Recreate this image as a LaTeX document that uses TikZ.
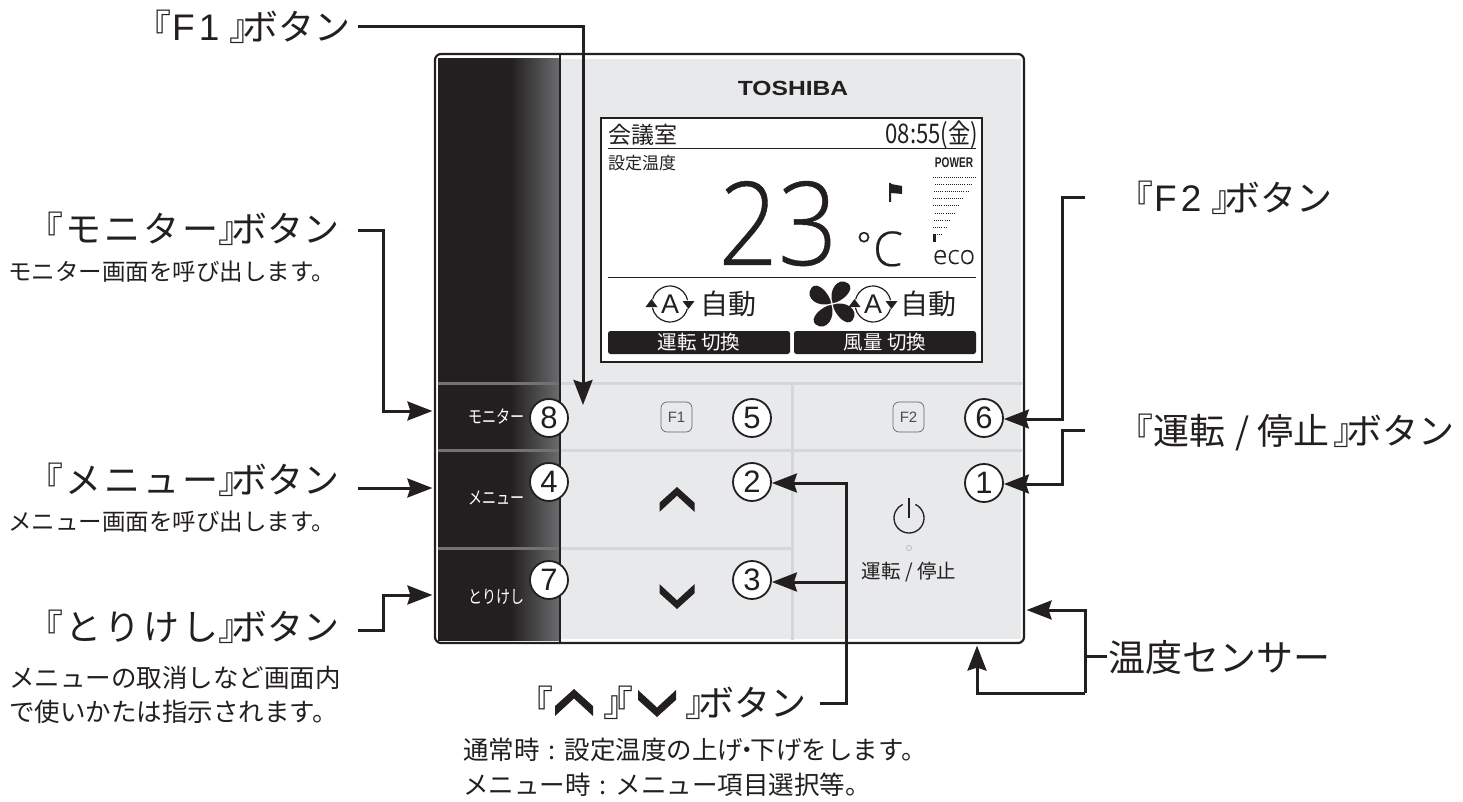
\documentclass[tikz,border=0pt]{standalone}
\usepackage{fontspec}
\usetikzlibrary{arrows.meta,calc}
\setmainfont{Noto Sans CJK JP}
\newfontfamily\lat{Liberation Sans}
\newfontfamily\thin{Open Sans Light}[FakeBold=0.4]
\definecolor{ink}{HTML}{231F20}
\definecolor{gradend}{HTML}{6A6B6D}
\definecolor{panelgray}{HTML}{E8E9EB}
\definecolor{seam}{HTML}{D5D6D8}
\pgfdeclarehorizontalshading{bandshade}{100bp}{color(0bp)=(ink); color(25bp)=(ink); color(55bp)=(ink); color(75bp)=(gradend); color(100bp)=(gradend)}
\tikzset{
  txt/.style={inner sep=0pt,text=ink,font=\fontsize{#1}{#1}\selectfont,anchor=west},
  ctr/.style={inner sep=0pt,text=ink,font=\fontsize{#1}{#1}\selectfont},
  conn/.style={draw=ink,line width=3pt,-{Stealth[length=25pt,width=19pt,inset=3pt]},line join=miter},
  plain/.style={draw=ink,line width=3pt},
  num/.style={circle,draw=ink,line width=1.8pt,fill=white,minimum size=38pt,inner sep=0pt,text=ink,font=\lat\fontsize{31}{31}\selectfont},
  seamline/.style={draw=seam,line width=3pt},
  darkseam/.style={draw=black!55,line width=3pt},
  keybox/.style={draw=black!60,line width=.7pt,rounded corners=6pt,minimum width=31pt,minimum height=30pt,inner sep=0pt,text=black!70,font=\lat\fontsize{15}{15}\selectfont},
  softkey/.style={fill=ink,rounded corners=2.5pt,text=white,minimum width=182pt,minimum height=23pt,inner sep=0pt,font=\fontsize{19.5}{19.5}\selectfont},
  bandtxt/.style={inner sep=0pt,text=white,font=\fontsize{18}{18}\selectfont,xscale=.78},
  panelbox/.style={draw=ink,line width=2.2pt,rounded corners=6pt,minimum width=589pt,minimum height=589pt,inner sep=0pt,fill=white}
}
\newcommand{\chevup}[3]{\fill[ink] (#1-#3,#2+.9*#3) -- (#1,#2) -- (#1+#3,#2+.9*#3) -- (#1+#3,#2+1.42*#3) -- (#1,#2+.5*#3) -- (#1-#3,#2+1.42*#3) -- cycle;}
\newcommand{\chevdown}[3]{\fill[ink] (#1-#3,#2-.9*#3) -- (#1,#2) -- (#1+#3,#2-.9*#3) -- (#1+#3,#2-1.42*#3) -- (#1,#2-.5*#3) -- (#1-#3,#2-1.42*#3) -- cycle;}
\newcommand{\autoA}[2]{%
  \draw[ink,line width=1.2pt] (#1,#2) ++(165:18pt) arc (165:12:18pt);
  \draw[ink,line width=1.2pt] (#1,#2) ++(-15:18pt) arc (-15:-168:18pt);
  \fill[ink] (#1+12.5,#2-3) -- (#1+24.5,#2-3) -- (#1+18.5,#2+5) -- cycle;
  \fill[ink] (#1-12.5,#2+3) -- (#1-24.5,#2+3) -- (#1-18.5,#2-5) -- cycle;
  \node[inner sep=0pt,text=ink,font=\lat\fontsize{27}{27}\selectfont] at (#1,#2) {A};}
\newcommand{\btn}{』\kern-22.5pt ボタン}
\begin{document}
\begin{tikzpicture}[x=1pt,y=-1pt]
\useasboundingbox (0,0) rectangle (1463,802);
% panel
\node[panelbox] (panel) at (729.5,348.5) {};
\fill[panelgray] (561,59) rectangle (1021,639);
\shade[shading=bandshade] (438,59) rectangle (559,640);
\draw[seamline] (561,383) -- (1022,383);
\draw[seamline] (561,450) -- (1022,450);
\draw[seamline] (561,548) -- (792,548);
\draw[seamline] (792,383) -- (792,640);
\draw[darkseam] (438,383) -- (559,383);
\draw[darkseam] (438,450) -- (559,450);
\draw[darkseam] (438,548) -- (559,548);
\draw[ink,line width=2.6pt] (560,55) -- (560,642);
\node[inner sep=0pt,text=ink,font=\lat\bfseries\fontsize{20.5}{20.5}\selectfont,xscale=1.2] (brand) at (793,88) {TOSHIBA};
% LCD
\draw[draw=ink,line width=1.6pt,fill=white] (601,118) rectangle (982,362);
\node[txt=23] (room) at (608,135) {会議室};
\node[ctr=27,anchor=east,xscale=.82] (clock) at (978,135) {08:55(金)};
\draw[ink,line width=1pt] (608,149) -- (976,149);
\node[txt=17] (settemp) at (608,163.5) {設定温度};
\node[inner sep=0pt,text=ink,font=\lat\bfseries\fontsize{14}{14}\selectfont,xscale=.72] (power) at (954,163) {POWER};
\foreach \yy/\xa/\xb in {178/933/976,185/935/972,192/934/968,199/933/963,206/933/959,213.5/935/955,220.5/934/950,228/933/946,235/933/942}
  \draw[ink,line width=1pt,dash pattern=on 1pt off 1.1pt] (\xa,\yy) -- (\xb,\yy);
\fill[ink] (933,234) rectangle (936,242);
\fill[ink] (889,183) rectangle (891,202) (891,184) -- (902,186) -- (902,194) -- (891,193) -- cycle;
\node[inner sep=0pt,anchor=base,text=ink,font=\thin\fontsize{116}{116}\selectfont,xscale=.9] (temp) at (778,265) {23};
\node[inner sep=0pt,anchor=base,text=ink,font=\thin\fontsize{36}{36}\selectfont] (deg) at (864,258) {°};
\node[inner sep=0pt,anchor=base,text=ink,font=\thin\fontsize{48}{48}\selectfont] (cel) at (888,266) {C};
\node[inner sep=0pt,anchor=base,text=ink,font=\thin\fontsize{26}{26}\selectfont] (eco) at (954,264) {eco};
\draw[ink,line width=1pt] (608,277) -- (976,277);
\autoA{670}{304}
\node[txt=28] (m1) at (700,304) {自動};
\autoA{873}{304}
\node[txt=28] (m2) at (900,304) {自動};
\begin{scope}[shift={(832,304)}]
\foreach \a in {45,135,225,315}{
 \fill[ink,rotate=\a] (1,0) .. controls (6,-12) and (24,-16) .. (26,-3) .. controls (27,6) and (10,6) .. (1,0) -- cycle;}
\end{scope}
\node[softkey] (s1) at (699,342.5) {運転 切換};
\node[softkey] (s2) at (885,342.5) {風量 切換};
% keys
\node[keybox] (f1) at (676.5,417) {F1};
\node[keybox] (f2) at (908.5,417) {F2};
\chevup{677}{487}{17.5}
\chevdown{677}{609}{17.5}
\draw[ink,line width=1.3pt] (909,518) ++(65:15pt) arc (65:-245:15pt);
\draw[ink,line width=1.6pt] (909,498) -- (909,518);
\draw[black!25,fill=panelgray,line width=.8pt] (909,548) circle (2.6pt);
\node[ctr=19.5] (runstop) at (909,572) {運転 / 停止};
\node[bandtxt] (bm) at (496.5,417) {モニター};
\node[bandtxt] (bn) at (496.5,498) {メニュー};
\node[bandtxt] (bt) at (496.5,597) {とりけし};
\node[num] (n8) at (549,418) {8};
\node[num] (n5) at (752,418) {5};
\node[num] (n6) at (984,418) {6};
\node[num] (n4) at (549,482) {4};
\node[num] (n2) at (752,482) {2};
\node[num] (n1) at (984,483) {1};
\node[num] (n7) at (549,580) {7};
\node[num] (n3) at (752,580) {3};
% labels
\node[txt=36] (lf1) at (135,27) {『\kern1pt{\lat\fontsize{37}{37}\selectfont F\kern4pt 1}\kern10pt\btn};
\node[txt=36] (lmon) at (27,229) {『\kern2pt モ\kern3pt ニ\kern3pt タ\kern3pt ー\kern0pt\btn};
\node[txt=23.5] at (8,272) {モニター画面を呼び出します。};
\node[txt=36] (lmen) at (27,480) {『\kern2pt メ\kern3pt ニ\kern3pt ュ\kern3pt ー\kern0pt\btn};
\node[txt=23.5] at (8,522) {メニュー画面を呼び出します。};
\node[txt=36] (ltor) at (27,627) {『\kern2pt と\kern3pt り\kern3pt け\kern3pt し\kern0pt\btn};
\node[txt=25.5] at (9,678) {メニューの取消しなど画面内};
\node[txt=25.5] at (9,712) {で使いかたは指示されます。};
\node[txt=36] (lf2) at (1117,198) {『\kern1pt{\lat\fontsize{37}{37}\selectfont F\kern4pt 2}\kern10pt\btn};
\node[txt=36] (lrun) at (1117,432) {『運転\kern10pt /\kern8pt 停止\kern4pt\btn};
\node[txt=37] (lsen) at (1108,657) {温度センサー};
\node[txt=36] (lud) at (517,703) {『\kern50pt 』\kern-42pt 『\kern52pt\btn};
\chevup{574}{689}{19}
\chevdown{657}{717}{19}
\node[txt=25.5] (d1) at (463,750) {通常時\kern9pt:\kern9pt 設定温度の上げ\kern-9pt ・\kern-9pt 下げをします。};
\node[txt=25.5] (d2) at (463,785) {メニュー時\kern9pt:\kern9pt メニュー項目選択等。};
% connectors
\coordinate (cf1) at (358,27);
\coordinate (cf1t) at (583,405);
\draw[conn] (cf1) -- (583,27) -- (cf1t);
\coordinate (cmon) at (358,231);
\coordinate (jmon) at (383,411);
\draw[conn,shorten >=1.5pt] (cmon) -- (cmon -| jmon) -- (jmon) -- (jmon -| panel.west);
\coordinate (cmen) at (358,488);
\draw[conn,shorten >=1.5pt] (cmen) -- (cmen -| panel.west);
\coordinate (ctor) at (358,630);
\coordinate (jtor) at (383,595);
\draw[conn,shorten >=1.5pt] (ctor) -- (ctor -| jtor) -- (jtor) -- (jtor -| panel.west);
\coordinate (cf2) at (1085,198);
\coordinate (jf2) at (1062,419);
\draw[conn] (cf2) -- (cf2 -| jf2) -- (jf2) -- (jf2 -| n6.east);
\coordinate (crun) at (1085,430);
\coordinate (jrun) at (1062,484);
\draw[conn] (crun) -- (crun -| jrun) -- (jrun) -- (jrun -| n1.east);
\coordinate (cud) at (820,703);
\coordinate (jud) at (846,483);
\coordinate (jud3) at (846,582);
\draw[conn] (cud) -- (cud -| jud) -- (jud) -- (jud -| n2.east);
\draw[conn] (jud3) -- (jud3 -| n3.east);
\coordinate (csen) at (1107,656);
\coordinate (jsen) at (1085,610);
\coordinate (ksen) at (1085,693);
\coordinate (msen) at (977,693);
\draw[plain] (csen) -- (csen -| jsen);
\draw[conn,shorten >=1.5pt] (ksen) -- (jsen) -- (jsen -| panel.east);
\draw[conn,shorten >=1.5pt] (ksen) -- (msen) -- (msen |- panel.south);
\end{tikzpicture}
\end{document}
